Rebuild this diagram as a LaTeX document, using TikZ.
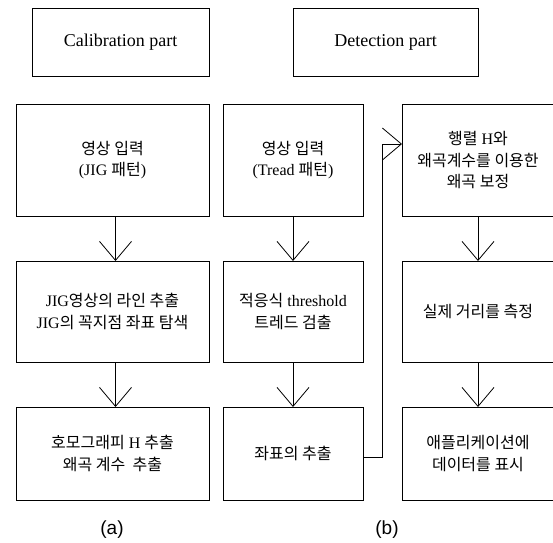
\documentclass[tikz,border=0pt]{standalone}
\usepackage{fontspec}
\setmainfont{Liberation Serif}
\setsansfont{Liberation Sans}
\newfontfamily\kr{Noto Sans CJK KR}
\usetikzlibrary{arrows.meta}
\begin{document}
\begin{tikzpicture}[x=1pt,y=-1pt,
  box/.style={draw=black,line width=0.9pt,inner sep=0pt,outer sep=0pt,align=center,
    font=\fontsize{16}{21.5}\selectfont},
  hdr/.style={draw=black,line width=0.9pt,inner sep=0pt,outer sep=0pt,
    font=\fontsize{18}{22}\selectfont},
  arr/.style={line width=0.8pt,-{Straight Barb[length=19pt,width=32pt,line width=0.8pt]}},
  lbl/.style={font=\sffamily\fontsize{19}{22}\selectfont}]
\useasboundingbox (0,0) rectangle (553,542);
% header boxes
\node[hdr,minimum width=177pt,minimum height=68pt] (cal) at (120.5,42) {Calibration part};
\node[hdr,minimum width=185pt,minimum height=68pt] (det) at (385.5,42) {Detection part};
% column a
\node[box,minimum width=193pt,minimum height=112pt] (a1) at (112.5,160)
  {{\kr 영상 입력}\\(JIG {\kr 패턴})};
\node[box,minimum width=193pt,minimum height=101pt] (a2) at (112.5,311.5)
  {JIG{\kr 영상의 라인 추출}\\JIG{\kr 의 꼭지점 좌표 탐색}};
\node[box,minimum width=193pt,minimum height=93pt] (a3) at (112.5,453.5)
  {{\kr 호모그래피} H {\kr 추출}\\{\kr 왜곡 계수\ \ 추출}};
% column b
\node[box,minimum width=140pt,minimum height=112pt] (b1) at (293,160)
  {{\kr 영상 입력}\\(Tread {\kr 패턴})};
\node[box,minimum width=140pt,minimum height=101pt] (b2) at (293,311.5)
  {{\kr 적응식} threshold\\{\kr 트레드 검출}};
\node[box,minimum width=140pt,minimum height=93pt] (b3) at (293,453.5)
  {{\kr 좌표의 추출}};
% column c
\node[box,minimum width=152pt,minimum height=112pt] (c1) at (478,160)
  {{\kr 행렬} H{\kr 와}\\{\kr 왜곡계수를 이용한}\\{\kr 왜곡 보정}};
\node[box,minimum width=152pt,minimum height=101pt] (c2) at (478,311.5)
  {{\kr 실제 거리를 측정}};
\node[box,minimum width=152pt,minimum height=93pt] (c3) at (478,453.5)
  {{\kr 애플리케이션에}\\{\kr 데이터를 표시}};
% arrows
\draw[arr] ([xshift=3pt]a1.south) -- ([xshift=3pt]a2.north);
\draw[arr] ([xshift=3pt]a2.south) -- ([xshift=3pt]a3.north);
\draw[arr] (b1.south) -- (b2.north);
\draw[arr] (b2.south) -- (b3.north);
\draw[arr] (c1.south) -- (c2.north);
\draw[arr] (c2.south) -- (c3.north);
\coordinate (k1) at (382,457);
\coordinate (k2) at (382,144);
\draw[arr] (b3.east |- k1) -- (k1) -- (k2) -- (c1.west |- k2);
% labels
\node[lbl] (la) at (112,530) {(a)};
\node[lbl] (lb) at (387,530) {(b)};
\end{tikzpicture}
\end{document}
